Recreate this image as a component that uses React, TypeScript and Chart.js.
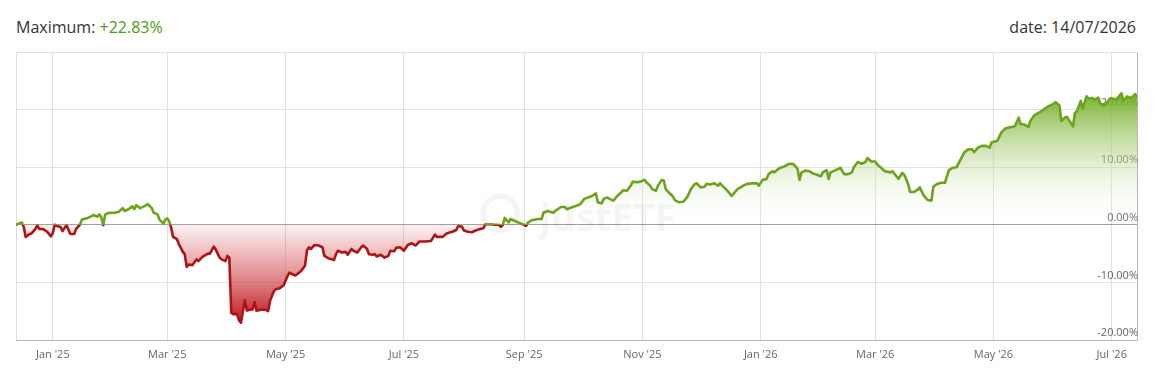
import { useEffect, useRef } from 'react';
import { Chart, registerables } from 'chart.js';

Chart.register(...registerables);

// Days since 2025-01-01 for each observation
const dayOffsets = [
  -19, -16, -15, -14, -12, -11, -9, -8, -7, -5, -3, -1, 0, 1, 2, 4, 5, 7, 8, 9, 11, 12, 14, 15, 18, 20, 21, 23, 24, 25,
  26, 27, 29, 32, 34, 36, 37, 39, 41, 42, 43, 45, 47, 49, 51, 52, 54, 55, 57, 58, 59, 60, 61, 62, 64, 65, 66, 67, 68, 69,
  70, 72, 74, 75, 77, 78, 80, 81, 83, 84, 86, 87, 89, 90, 91, 92, 93, 95, 96, 97, 99, 100, 102, 103, 104, 105, 108, 110, 111, 112,
  114, 115, 117, 119, 121, 122, 123, 125, 127, 128, 130, 131, 132, 133, 135, 137, 139, 140, 142, 145, 146, 147, 149, 151, 152, 154, 155, 157, 159, 160,
  162, 163, 165, 166, 167, 169, 171, 173, 174, 176, 177, 179, 181, 183, 185, 187, 189, 192, 195, 197, 198, 201, 203, 205, 206, 208, 209, 211, 212, 214,
  216, 218, 220, 222, 223, 226, 228, 230, 231, 232, 233, 235, 236, 238, 240, 243, 244, 245, 247, 250, 252, 253, 255, 258, 259, 262, 264, 265, 268, 270,
  272, 274, 276, 278, 280, 281, 283, 284, 286, 287, 289, 291, 293, 294, 296, 298, 299, 301, 303, 305, 306, 308, 309, 311, 312, 314, 315, 316, 318, 319,
  321, 323, 325, 327, 329, 331, 332, 334, 336, 337, 339, 341, 343, 344, 346, 347, 349, 350, 352, 353, 355, 356, 358, 361, 363, 364, 366, 368, 369, 371,
  372, 374, 375, 377, 379, 381, 382, 384, 385, 386, 388, 390, 392, 394, 396, 397, 399, 400, 401, 403, 405, 406, 408, 410, 412, 413, 415, 417, 419, 420,
  422, 424, 425, 427, 429, 432, 433, 435, 436, 438, 439, 441, 442, 444, 446, 447, 449, 451, 453, 454, 456, 458, 460, 462, 464, 466, 468, 470, 472, 474,
  475, 477, 479, 481, 483, 484, 487, 489, 491, 493, 496, 498, 499, 501, 503, 504, 506, 508, 510, 512, 514, 516, 517, 519, 520, 522, 523, 524, 526, 527,
  528, 529, 530, 531, 533, 534, 536, 537, 539, 540, 542, 543, 545, 546, 548, 549, 551, 552, 554, 556, 558, 559,
];

// Cumulative performance in %
const performanceValues = [
  0.05, 0.4, -0.4, -2.1, -1.6, -1.5, -0.7, -0.1, -0.7, -0.75, -1.2, -2.0, -1.4, 0.05, -0.2, -0.4, -1.1, -0.05, -0.8, -1.6, -1.6, -0.7, 0.05, 0.9, 1.2, 1.5, 1.7, 1.4, 1.8, 1.3,
  -0.05, 1.8, 2.1, 2.1, 2.25, 2.9, 2.4, 2.7, 3.2, 2.7, 3.4, 2.9, 3.2, 3.6, 2.9, 2.1, 1.8, 0.9, 0.2, 0.9, 1.1, 0.6, -0.5, -2.1, -2.5, -3.4, -4.0, -4.7, -5.1, -7.3,
  -6.9, -7.0, -6.0, -6.3, -5.6, -5.4, -5.0, -5.0, -3.8, -4.3, -5.7, -6.0, -6.3, -5.4, -5.7, -15.3, -15.5, -15.5, -16.6, -17.0, -13.1, -14.9, -14.7, -14.7, -13.4, -14.9, -14.7, -14.8, -15.0, -13.2,
  -11.5, -11.2, -11.0, -10.5, -8.9, -8.3, -8.5, -8.8, -8.3, -8.0, -7.1, -4.5, -3.9, -4.2, -3.5, -3.6, -3.9, -5.4, -5.8, -6.1, -5.1, -4.5, -4.8, -4.7, -5.2, -4.2, -4.5, -4.8, -3.9, -3.6,
  -4.2, -5.1, -5.2, -5.1, -5.5, -5.2, -5.7, -5.4, -4.5, -4.6, -4.0, -3.9, -4.5, -3.5, -3.2, -3.6, -2.9, -2.9, -2.8, -1.7, -2.1, -2.1, -1.5, -1.3, -1.2, -0.9, -0.2, -0.35, -1.0, -1.2,
  -1.3, -1.0, -0.75, -0.6, 0.1, 0.1, 0.0, 0.0, -0.35, 0.0, 1.2, 0.4, 1.0, 0.7, 0.4, 0.0, -0.2, 0.4, 0.8, 1.0, 1.0, 2.1, 2.4, 2.1, 2.4, 3.1, 3.1, 2.7, 3.1, 3.3,
  3.6, 4.5, 4.75, 5.0, 5.45, 3.9, 3.7, 4.5, 4.75, 4.5, 4.2, 5.0, 5.6, 6.0, 5.9, 6.8, 7.5, 7.4, 7.5, 7.8, 7.4, 6.8, 6.2, 5.9, 6.8, 7.8, 7.7, 6.2, 5.45, 5.2,
  4.2, 3.9, 4.0, 4.75, 6.2, 7.1, 7.2, 6.5, 6.6, 7.1, 7.0, 7.2, 6.8, 7.2, 6.5, 6.2, 5.45, 5.0, 5.8, 6.2, 6.6, 6.8, 7.1, 7.2, 7.2, 6.8, 7.8, 7.95, 8.8, 9.3,
  9.1, 9.7, 9.9, 10.1, 10.5, 10.6, 10.5, 9.7, 7.8, 9.1, 9.4, 9.3, 8.9, 8.7, 8.4, 9.1, 9.5, 7.95, 9.1, 9.4, 9.7, 9.9, 8.8, 8.8, 9.1, 10.0, 10.9, 10.6, 10.9, 11.6,
  11.0, 11.0, 10.5, 9.9, 9.3, 9.1, 9.3, 8.4, 8.0, 9.0, 8.7, 7.1, 5.7, 5.7, 6.1, 6.5, 5.1, 4.3, 4.2, 6.6, 7.1, 7.3, 7.3, 9.5, 9.9, 10.0, 11.3, 12.6, 13.1, 13.1,
  12.6, 13.4, 13.7, 13.7, 13.4, 14.3, 14.6, 16.0, 16.7, 16.9, 17.1, 18.6, 17.5, 17.4, 17.0, 18.0, 19.0, 19.4, 19.8, 20.3, 20.7, 21.0, 21.3, 20.7, 18.0, 18.7, 18.7, 18.1, 17.1, 19.4,
  19.7, 20.6, 21.5, 20.2, 22.3, 21.9, 22.0, 21.7, 22.1, 21.1, 20.7, 21.0, 21.9, 22.0, 21.7, 22.0, 22.83, 21.5, 22.3, 22.0, 22.7, 22.3,
];

const tickDates = [
  '2025-01-01', '2025-03-01', '2025-05-01', '2025-07-01', '2025-09-01',
  '2025-11-01', '2026-01-01', '2026-03-01', '2026-05-01', '2026-07-01',
];
const tickLabels = ["Jan '25", "Mar '25", "May '25", "Jul '25", "Sep '25", "Nov '25", "Jan '26", "Mar '26", "May '26", "Jul '26"];
const yTickValues = [-20, -10, 0, 10, 20, 30];
const yHiddenLabel = 30;

const startDate = '2024-12-13';
const endDate = '2026-07-14';
const maximumText = '+22.83%';
const dateText = '14/07/2026';

const FONT = "'Open Sans', 'Noto Sans', sans-serif";
const GREEN_LINE = '#6da21c';
const RED_LINE = '#ae1318';

function dayIndex(s: string): number {
  const [y, m, d] = s.split('-').map(Number);
  return Math.round((Date.UTC(y, m - 1, d) - Date.UTC(2025, 0, 1)) / 86400000);
}

function lineGradient(chart: any) {
  const area = chart.chartArea;
  const y = chart.scales?.y;
  if (!area || !y) return GREEN_LINE;
  const zero = y.getPixelForValue(0);
  const f = Math.min(1, Math.max(0, (zero - area.top) / (area.bottom - area.top)));
  const g = chart.ctx.createLinearGradient(0, area.top, 0, area.bottom);
  g.addColorStop(0, GREEN_LINE);
  g.addColorStop(f, GREEN_LINE);
  g.addColorStop(f, RED_LINE);
  g.addColorStop(1, RED_LINE);
  return g;
}

function fillGradient(chart: any) {
  const area = chart.chartArea;
  const y = chart.scales?.y;
  if (!area || !y) return 'rgba(0,0,0,0)';
  const maxV = Math.max(...performanceValues);
  const minV = Math.min(...performanceValues);
  const top = y.getPixelForValue(maxV);
  const bottom = y.getPixelForValue(minV);
  const zero = y.getPixelForValue(0);
  const f = (zero - top) / (bottom - top);
  const g = chart.ctx.createLinearGradient(0, top, 0, bottom);
  g.addColorStop(0, 'rgba(110,172,30,0.95)');
  g.addColorStop(f, 'rgba(255,255,255,0)');
  g.addColorStop(Math.min(1, f + 0.002), 'rgba(205,45,50,0.07)');
  g.addColorStop(f + (1 - f) * 0.5, 'rgba(200,40,45,0.5)');
  g.addColorStop(1, 'rgba(184,18,24,0.98)');
  return g;
}

const framePlugin = {
  id: 'frame',
  beforeDatasetsDraw(chart: any) {
    const { ctx, chartArea } = chart;
    ctx.save();
    ctx.strokeStyle = '#dedede';
    ctx.lineWidth = 1;
    ctx.beginPath();
    ctx.moveTo(chartArea.left + 0.5, chartArea.top);
    ctx.lineTo(chartArea.left + 0.5, chartArea.bottom);
    ctx.stroke();
    // faint watermark
    const w = chartArea.right - chartArea.left;
    const h = chartArea.bottom - chartArea.top;
    const cx = chartArea.left + w * 0.432;
    const cy = chartArea.top + h * 0.56;
    ctx.strokeStyle = 'rgba(0,0,0,0.04)';
    ctx.lineWidth = 6;
    ctx.beginPath();
    ctx.arc(cx, cy, 17, 0, Math.PI * 2);
    ctx.stroke();
    ctx.fillStyle = 'rgba(0,0,0,0.04)';
    ctx.font = `bold 38px ${FONT}`;
    ctx.textAlign = 'left';
    ctx.textBaseline = 'alphabetic';
    ctx.fillText('justETF', chartArea.left + w * 0.467, chartArea.top + h * 0.62);
    ctx.restore();
  },
};

export default function App() {
  const canvasRef = useRef<HTMLCanvasElement | null>(null);

  useEffect(() => {
    const canvas = canvasRef.current;
    if (!canvas) return;
    const points = dayOffsets.map((d, i) => ({ x: d, y: performanceValues[i] }));
    const chart = new Chart(canvas, {
      type: 'line',
      data: {
        datasets: [
          {
            data: points,
            borderWidth: 2.6,
            pointRadius: 0,
            tension: 0,
            borderJoinStyle: 'round',
            borderCapStyle: 'round',
            borderColor: (c: any) => lineGradient(c.chart),
            backgroundColor: (c: any) => fillGradient(c.chart),
            fill: { target: { value: 0 } },
          } as any,
        ],
      },
      options: {
        responsive: false,
        animation: false,
        events: [],
        layout: { padding: { left: 16, right: 27, top: 52, bottom: 0 } },
        plugins: { legend: { display: false }, tooltip: { enabled: false } },
        scales: {
          x: {
            type: 'linear',
            min: dayIndex(startDate),
            max: dayIndex(endDate),
            afterBuildTicks: (s: any) => {
              s.ticks = tickDates.map((t) => ({ value: dayIndex(t) }));
            },
            afterFit: (s: any) => {
              s.height = 32;
            },
            ticks: {
              autoSkip: false,
              maxRotation: 0,
              padding: 8,
              color: '#666666',
              font: { family: FONT, size: 11 },
              callback: (v: any) => {
                const i = tickDates.findIndex((t) => dayIndex(t) === v);
                return i >= 0 ? tickLabels[i] : '';
              },
            },
            grid: { color: '#e0e0e0', drawTicks: false, lineWidth: 1 },
            border: { color: '#b8b8b8' },
          },
          y: {
            position: 'right',
            min: -20,
            max: 30,
            afterBuildTicks: (s: any) => {
              s.ticks = yTickValues.map((v) => ({ value: v }));
            },
            afterFit: (s: any) => {
              s.width = 0;
            },
            ticks: {
              mirror: true,
              padding: 1,
              labelOffset: -7,
              color: '#666666',
              font: { family: FONT, size: 11 },
              callback: (v: any) => (v === yHiddenLabel ? '' : Number(v).toFixed(2) + '%'),
            },
            grid: {
              drawTicks: false,
              color: (c: any) => (c.tick && c.tick.value === 0 ? '#a0a0a0' : '#e0e0e0'),
            },
            border: { color: '#b8b8b8' },
          },
        },
      } as any,
      plugins: [framePlugin],
    });
    chart.update();
    return () => chart.destroy();
  }, []);

  return (
    <div style={{ position: 'fixed', left: 0, top: 0, width: 1164, height: 372, background: '#fff', fontFamily: FONT }}>
      <div style={{ position: 'absolute', left: 16, top: 16, lineHeight: '22px', fontSize: 16, color: '#333333', whiteSpace: 'nowrap' }}>
        Maximum: <span style={{ color: '#4f9a14' }}>{maximumText}</span>
      </div>
      <div style={{ position: 'absolute', right: 28, top: 16, lineHeight: '22px', fontSize: 16, color: '#333333', whiteSpace: 'nowrap' }}>
        date: {dateText}
      </div>
      <canvas ref={canvasRef} width={1164} height={372} style={{ position: 'absolute', left: 0, top: 0, width: 1164, height: 372 }} />
    </div>
  );
}
